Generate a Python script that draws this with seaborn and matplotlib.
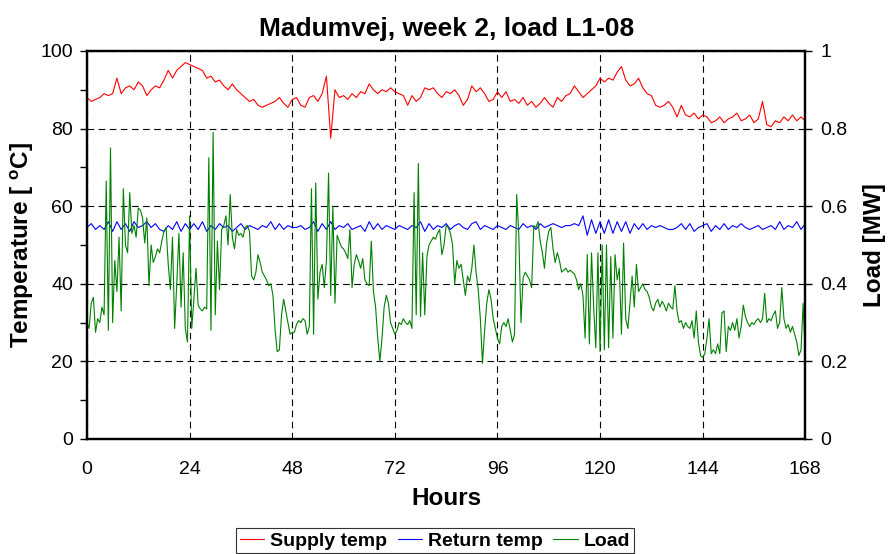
import numpy as np
import matplotlib
matplotlib.use("Agg")
import matplotlib.pyplot as plt
from matplotlib.ticker import MultipleLocator
import seaborn as sns

# data --------------------------------------------------------------------------

hours = np.arange(0, 169)          # hourly samples for the temperatures
hours_load = np.arange(0, 168.5, 0.5)  # half-hourly samples for the load

supply_temp = [
    88, 87, 87.5, 88, 89, 88.5, 89, 93, 89, 90.5, 91, 90, 92, 91, 88.5, 90, 91, 90.5, 92.5, 95, 93, 95, 96, 97, 96.5,
    96, 95.5, 95, 93, 93.5, 92, 92.5, 91, 90, 91.5, 90, 89, 88, 87, 87.5, 86, 85.5, 86, 86.5, 87, 88, 86.5, 85.5, 87.5,
    88, 86, 85.5, 88, 88.5, 87, 89, 93.5, 77.5, 90, 88, 88.5, 87.5, 89, 88, 89.5, 89, 91.5, 90, 89, 90, 89.5, 90.5, 89.5,
    89, 88.5, 86, 88.5, 87, 88, 90.5, 90, 90.5, 89, 88, 89.5, 89, 90, 88.5, 86, 87.5, 91, 89.5, 90.5, 89, 87, 87.5, 89.5,
    88, 89.5, 87, 87.5, 86.5, 88, 86, 87, 85.5, 86.5, 88, 86.5, 85.5, 88, 87, 88.5, 89, 91, 89.5, 88, 89, 90, 91, 93,
    92, 93, 92.5, 94.5, 96, 92.5, 91, 91.5, 93, 90.5, 89, 88.5, 86, 85.5, 86, 87, 85.5, 83, 86, 83.5, 83, 84, 82.5, 83.5,
    83, 81.5, 82, 83, 81.5, 82.5, 83, 84, 82, 82.5, 83.5, 81.5, 82.5, 87, 81, 80.5, 82, 81.5, 83, 82, 83.5, 82, 83, 82,
]

return_temp = [
    54.5, 55.5, 54, 55, 54, 56, 53.5, 56, 54, 55.5, 53.5, 56, 54.5, 55, 56, 54.5, 55.5, 54, 53.5, 55, 54, 56, 53.5, 55.5, 54,
    55.5, 54, 56, 53.5, 55, 54, 55.5, 54.5, 55, 53.5, 54.5, 55.5, 54, 55, 54.5, 54, 55, 54.5, 56, 54, 55.5, 54, 55, 54.5,
    54.5, 55, 54, 54.5, 56, 53.5, 55.5, 54, 56, 54, 55, 54.5, 55.5, 54, 54.5, 55, 53.5, 56, 54, 55.5, 54, 55, 54.5, 54,
    55, 54.5, 54, 55, 54.5, 56, 53.5, 55.5, 54, 55, 54.5, 55.5, 54, 55, 55.5, 54.5, 54, 55.5, 56, 54, 55, 54.5, 54, 55,
    54.5, 54, 55, 54.5, 54, 55.5, 54.5, 55, 54, 55.5, 54.5, 55, 55.5, 55, 54.5, 55, 55, 55.5, 55, 57.5, 52.5, 56.5, 53, 56,
    53, 56.5, 53, 56, 53.5, 56, 53, 55.5, 54, 55.5, 54, 55, 54.5, 55, 54.5, 54, 54, 54.5, 55.5, 54, 55.5, 53.5, 54.5, 55,
    55.5, 53.5, 55, 54, 55.5, 54, 55, 54.5, 55.5, 54.5, 54, 54.5, 55, 54, 54.5, 55, 54, 56, 54, 55, 54.5, 56, 54, 55.5,
]

load_mw = [
    # 0 - 24 h
    0.300, 0.285, 0.350, 0.365, 0.275, 0.310, 0.300, 0.340, 0.320, 0.665, 0.280, 0.750, 0.300, 0.460, 0.380, 0.520,
    0.330, 0.645, 0.500, 0.480, 0.635, 0.530, 0.550, 0.520, 0.595, 0.590, 0.570, 0.505, 0.570, 0.395, 0.500, 0.455,
    0.470, 0.490, 0.480, 0.510, 0.535, 0.545, 0.450, 0.385, 0.520, 0.285, 0.400, 0.530, 0.340, 0.480, 0.285, 0.250,
    0.575,
    # 24 - 48 h
    0.285, 0.360, 0.440, 0.345, 0.335, 0.330, 0.340, 0.335, 0.725, 0.280, 0.790, 0.320, 0.510, 0.385, 0.540, 0.550,
    0.575, 0.500, 0.630, 0.520, 0.490, 0.540, 0.525, 0.530, 0.520, 0.545, 0.550, 0.535, 0.420, 0.410, 0.430, 0.475,
    0.455, 0.430, 0.420, 0.410, 0.395, 0.400, 0.370, 0.280, 0.225, 0.230, 0.320, 0.360, 0.330, 0.300, 0.270, 0.275,
    # 48 - 72 h
    0.275, 0.295, 0.305, 0.300, 0.310, 0.305, 0.270, 0.290, 0.645, 0.270, 0.660, 0.360, 0.430, 0.450, 0.390, 0.460,
    0.685, 0.370, 0.600, 0.350, 0.525, 0.510, 0.495, 0.490, 0.480, 0.465, 0.540, 0.390, 0.450, 0.475, 0.460, 0.440,
    0.465, 0.410, 0.400, 0.395, 0.510, 0.380, 0.340, 0.260, 0.200, 0.260, 0.340, 0.370, 0.350, 0.300, 0.285, 0.270,
    # 72 - 96 h
    0.280, 0.300, 0.295, 0.310, 0.300, 0.295, 0.305, 0.285, 0.635, 0.320, 0.710, 0.315, 0.480, 0.320, 0.470, 0.500,
    0.510, 0.520, 0.515, 0.530, 0.540, 0.475, 0.500, 0.550, 0.545, 0.530, 0.500, 0.400, 0.460, 0.440, 0.450, 0.410,
    0.370, 0.420, 0.405, 0.440, 0.500, 0.430, 0.385, 0.310, 0.195, 0.280, 0.350, 0.385, 0.360, 0.310, 0.285, 0.260,
    # 96 - 120 h
    0.245, 0.290, 0.300, 0.290, 0.310, 0.280, 0.250, 0.270, 0.630, 0.525, 0.300, 0.415, 0.430, 0.420, 0.410, 0.390,
    0.550, 0.545, 0.560, 0.510, 0.480, 0.440, 0.505, 0.535, 0.545, 0.490, 0.455, 0.480, 0.460, 0.430, 0.435, 0.440,
    0.430, 0.435, 0.430, 0.425, 0.410, 0.385, 0.400, 0.370, 0.260, 0.475, 0.245, 0.480, 0.340, 0.235, 0.480, 0.225,
    # 120 - 144 h
    0.500, 0.230, 0.500, 0.235, 0.470, 0.260, 0.475, 0.410, 0.440, 0.270, 0.505, 0.310, 0.285, 0.350, 0.420, 0.340,
    0.450, 0.380, 0.390, 0.400, 0.385, 0.380, 0.365, 0.340, 0.330, 0.350, 0.360, 0.340, 0.355, 0.345, 0.330, 0.350,
    0.340, 0.335, 0.395, 0.330, 0.300, 0.305, 0.285, 0.300, 0.290, 0.285, 0.305, 0.260, 0.330, 0.250, 0.215, 0.210,
    # 144 - 168 h
    0.220, 0.260, 0.310, 0.220, 0.230, 0.220, 0.245, 0.220, 0.325, 0.330, 0.225, 0.290, 0.280, 0.300, 0.280, 0.310,
    0.260, 0.290, 0.345, 0.315, 0.300, 0.290, 0.300, 0.295, 0.305, 0.310, 0.300, 0.310, 0.375, 0.300, 0.310, 0.305,
    0.320, 0.330, 0.285, 0.300, 0.390, 0.310, 0.285, 0.295, 0.275, 0.290, 0.270, 0.250, 0.215, 0.230, 0.350, 0.210,
]

title = "Madumvej, week 2, load L1-08"
x_ticks = [0, 24, 48, 72, 96, 120, 144, 168]
temp_ticks = [0, 20, 40, 60, 80, 100]
load_ticks = [0, 0.2, 0.4, 0.6, 0.8, 1]
load_tick_labels = ["0", "0.2", "0.4", "0.6", "0.8", "1"]

# style ---------------------------------------------------------------------------

sns.set_style("white")
plt.rcParams["font.family"] = ["Liberation Sans", "DejaVu Sans"]
plt.rcParams["mathtext.fontset"] = "custom"
plt.rcParams["mathtext.rm"] = "Liberation Sans:bold"
plt.rcParams["mathtext.bf"] = "Liberation Sans:bold"
for k in ("text.color", "axes.labelcolor", "xtick.color", "ytick.color", "axes.edgecolor"):
    plt.rcParams[k] = "black"

size_tick = 14
size_lab = 17.5

fig = plt.figure(figsize=(8.93, 5.54), dpi=100)
ax = fig.add_axes([0.0974, 0.2076, 0.8044, 0.7004])
ax2 = ax.twinx()

sns.lineplot(x=hours, y=supply_temp, ax=ax, color="#ff0000", linewidth=0.8, label="Supply temp", legend=False)
sns.lineplot(x=hours, y=return_temp, ax=ax, color="#0000ff", linewidth=0.8, label="Return temp", legend=False)
sns.lineplot(x=hours_load, y=load_mw, ax=ax2, color="#008000", linewidth=0.8, label="Load", legend=False)

ax.set_xlim(0, 168)
ax.set_ylim(0, 100)
ax2.set_ylim(0, 1)

ax.set_xticks(x_ticks)
ax.xaxis.set_minor_locator(MultipleLocator(6))
ax.set_yticks(temp_ticks)
ax.yaxis.set_minor_locator(MultipleLocator(10))
ax2.set_yticks(load_ticks)
ax2.set_yticklabels(load_tick_labels)

ax.grid(True, which="major", color="black", linestyle=(0, (6, 4)), linewidth=0.8)
ax.set_axisbelow(True)

for a in (ax, ax2):
    a.tick_params(which="both", direction="out", length=5, width=1, colors="black", labelsize=size_tick)
    for s in a.spines.values():
        s.set_visible(True)
        s.set_color("black")
        s.set_linewidth(1.6)
ax.tick_params(axis="x", pad=11)
ax.tick_params(axis="y", pad=5)
ax2.tick_params(axis="y", pad=6)

ax.set_xlabel("Hours", fontsize=size_lab, fontweight="bold", labelpad=6)
ax.set_ylabel(r"Temperature [ $^{\mathrm{o}}$C]", fontsize=size_lab, fontweight="bold", labelpad=3)
ax2.set_ylabel("Load [MW]", fontsize=size_lab, fontweight="bold", rotation=90, labelpad=11)
ax.set_title(title, fontsize=19, fontweight="bold", pad=11)

h1, l1 = ax.get_legend_handles_labels()
h2, l2 = ax2.get_legend_handles_labels()
leg = fig.legend(h1 + h2, l1 + l2, loc="center", bbox_to_anchor=(0.487, 0.024), ncol=3,
                 frameon=True, fancybox=False, edgecolor="black", handlelength=1.25,
                 handletextpad=0.3, columnspacing=0.55, borderpad=0.2, borderaxespad=0,
                 prop={"weight": "bold", "size": 14})
leg.get_frame().set_linewidth(0.8)

fig.savefig("out.png", dpi=100)
